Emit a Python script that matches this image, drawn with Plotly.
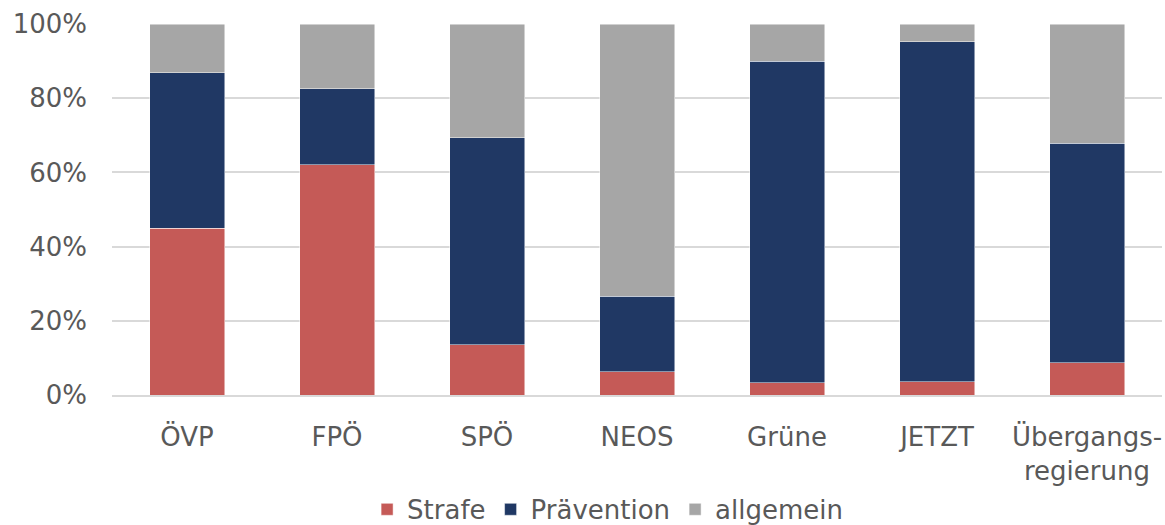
import plotly.graph_objects as go

categories = ["ÖVP", "FPÖ", "SPÖ", "NEOS", "Grüne", "JETZT", "Übergangs-<br>regierung"]
strafe = [0.449, 0.620, 0.135, 0.063, 0.033, 0.036, 0.087]
praevention = [0.420, 0.206, 0.558, 0.203, 0.867, 0.916, 0.591]
allgemein = [round(1 - s - p, 3) for s, p in zip(strafe, praevention)]

series_names = ["Strafe", "Prävention", "allgemein"]
series_values = [strafe, praevention, allgemein]
colors = ["#C55A57", "#203864", "#A6A6A6"]
y_ticks = [0, 0.2, 0.4, 0.6, 0.8, 1.0]
y_labels = ["0%", "20%", "40%", "60%", "80%", "100%"]

font = "DejaVu Sans"
txt = "#595959"

fig = go.Figure()
for name, vals, col in zip(series_names, series_values, colors):
    fig.add_trace(go.Bar(
        x=categories, y=vals, name=name,
        marker=dict(color=col, line=dict(color="rgba(255,255,255,0.6)", width=0.8)),
    ))

fig.update_layout(
    barmode="stack",
    bargap=0.5,
    width=1165, height=525,
    margin=dict(l=112, r=3, t=24, b=130, autoexpand=False),
    paper_bgcolor="white", plot_bgcolor="white",
    font=dict(family=font, size=26, color=txt),
    showlegend=True,
    legend=dict(orientation="h", x=0.472, xanchor="center", xref="paper",
                y=-0.245, yanchor="top", font=dict(size=26, color=txt),
                itemwidth=30, traceorder="normal"),
)
fig.update_yaxes(range=[0, 1], tickvals=y_ticks, ticktext=y_labels,
                 showgrid=True, gridcolor="#D9D9D9", gridwidth=1.5,
                 zeroline=False, showline=False, ticks="", automargin=False,
                 ticklabelstandoff=24, tickfont=dict(size=26, color=txt))
fig.update_xaxes(showgrid=False, showline=True, linecolor="#D9D9D9", linewidth=1.5,
                 ticks="", automargin=False, tickangle=0,
                 tickfont=dict(size=26, color=txt), ticklabelstandoff=18)

fig.write_html("out.html",
               config={"displayModeBar": False},
               post_script="document.body.style.margin='0px';document.body.style.overflow='hidden';")
